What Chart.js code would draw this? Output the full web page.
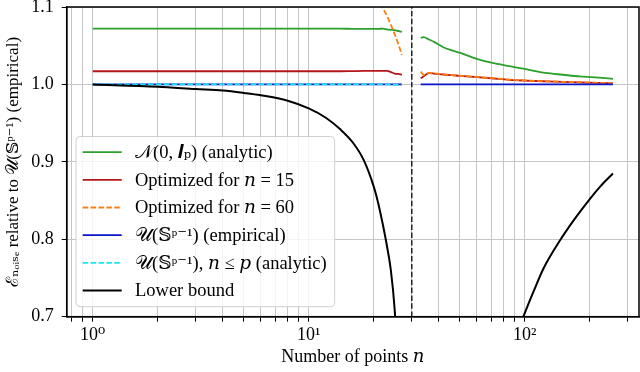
<!DOCTYPE html>
<html>
<head>
<meta charset="utf-8">
<script src="https://cdn.jsdelivr.net/npm/chart.js@4.4.1/dist/chart.umd.min.js"></script>
<style>
  html, body { margin: 0; padding: 0; background: #fff; }
  #wrap { width: 640px; height: 372px; }
</style>
</head>
<body>
<div id="wrap"><canvas id="chart"></canvas></div>
<script>
// Number of points n (left part: n < p, right part: n > p)
const nLeft = [1, 2, 3, 4, 5, 6, 8, 10, 12, 14, 16, 18, 20, 21, 22, 23, 24, 25, 26, 27];
const nRight = [33, 34, 36, 38, 42, 46, 50, 60, 70, 85, 100, 125, 150, 180, 220, 256];
const pDim = 30;

// N(0, I_p) (analytic)
const gaussLeft = [1.072, 1.072, 1.072, 1.072, 1.072, 1.072, 1.072, 1.072, 1.072, 1.072, 1.0718, 1.0718, 1.0718, 1.0718, 1.072, 1.071, 1.0705, 1.070, 1.069, 1.068];
const gaussRight = [1.060, 1.0612, 1.058, 1.055, 1.048, 1.044, 1.041, 1.033, 1.028, 1.0235, 1.020, 1.0148, 1.0125, 1.0103, 1.0087, 1.0073];

// Optimized for n = 15
const opt15Left = [1.017, 1.017, 1.017, 1.017, 1.017, 1.017, 1.017, 1.017, 1.017, 1.017, 1.0172, 1.0174, 1.0175, 1.0175, 1.0175, 1.0175, 1.016, 1.014, 1.0135, 1.0125];
const opt15Right = [1.008, 1.0103, 1.0145, 1.014, 1.0128, 1.012, 1.011, 1.0095, 1.008, 1.006, 1.005, 1.004, 1.0033, 1.0027, 1.002, 1.0017];

// Optimized for n = 60
const opt60Left = [null, null, null, null, null, null, null, null, null, null, null, null, null, 1.115, 1.099, 1.089, 1.077, 1.065, 1.052, 1.038];
const opt60Right = [1.0165, 1.0125, 1.015, 1.0143, 1.013, 1.0122, 1.0112, 1.0097, 1.0082, 1.0062, 1.0052, 1.0041, 1.0034, 1.0028, 1.0021, 1.0018];

// U(S^{p-1}) empirical and analytic (n <= p)
const unifEmpLeft = [1.0, 1.0, 1.0, 1.0, 1.0, 1.0, 1.0, 1.0, 1.0, 1.0, 1.0, 1.0, 1.0, 1.0, 1.0, 1.0, 1.0, 1.0, 1.0, 1.0];
const unifEmpRight = [1.0, 1.0, 1.0, 1.0, 1.0, 1.0, 1.0, 1.0, 1.0, 1.0, 1.0, 1.0, 1.0, 1.0, 1.0, 1.0];
const unifAnaLeft = [1.0, 1.0, 1.0, 1.0, 1.0, 1.0, 1.0, 1.0, 1.0, 1.0, 1.0, 1.0, 1.0, 1.0, 1.0, 1.0, 1.0, 0.9995, 0.9993, 0.999];

// Lower bound
const lowerLeft = [1.0, 0.997, 0.994, 0.992, 0.989, 0.986, 0.979, 0.969, 0.957, 0.942, 0.925, 0.902, 0.868, 0.846, 0.820, 0.792, 0.760, 0.709, 0.62, 0.45];
const lowerRightN = [95, 100, 110, 122, 146, 170, 200, 225, 256];
const lowerRight = [0.688, 0.7045, 0.733, 0.762, 0.799, 0.826, 0.852, 0.869, 0.885];

// Axis ticks
const xMajorTicks = [1, 10, 100];
const xMinorTicks = [0.8, 0.9, 2, 3, 4, 5, 6, 7, 8, 9, 20, 30, 40, 50, 60, 70, 80, 90, 200, 300];
const yTicks = [0.7, 0.8, 0.9, 1.0, 1.1];
const superDigits = {'0': '\u2070', '1': '\u00b9', '2': '\u00b2'};

// join the two parts with a gap at n = p
function joinParts(xa, ya, xb, yb) {
    const pts = xa.map((x, i) => ({x: x, y: ya[i]}));
    pts.push({x: pDim, y: null});
    if (xb) xb.forEach((x, i) => pts.push({x: x, y: yb[i]}));
    return pts;
}

const dashed = [5.5, 2.4];

const datasets = [
    {
        label: '\ud835\udca9(0, \ud835\udc70\u209a) (analytic)',
        data: joinParts(nLeft, gaussLeft, nRight, gaussRight),
        borderColor: '#2ca02c'
    },
    {
        label: 'Optimized for \ud835\udc5b = 15',
        data: joinParts(nLeft, opt15Left, nRight, opt15Right),
        borderColor: '#b5161b'
    },
    {
        label: 'Optimized for \ud835\udc5b = 60',
        data: joinParts(nLeft, opt60Left, nRight, opt60Right),
        borderColor: '#ff7f0e',
        borderDash: dashed
    },
    {
        label: '\ud835\udcb0(\ud835\udd4a\u1d56\u207b\u00b9) (empirical)',
        data: joinParts(nLeft, unifEmpLeft, nRight, unifEmpRight),
        borderColor: '#0a14c8'
    },
    {
        label: '\ud835\udcb0(\ud835\udd4a\u1d56\u207b\u00b9), \ud835\udc5b \u2264 \ud835\udc5d (analytic)',
        data: joinParts(nLeft, unifAnaLeft),
        borderColor: '#19e6f0',
        borderDash: dashed
    },
    {
        label: 'Lower bound',
        data: joinParts(nLeft, lowerLeft, lowerRightN, lowerRight),
        borderColor: '#000000',
        borderWidth: 2
    },
    {
        label: '',
        data: [{x: pDim, y: 0.7}, {x: pDim, y: 1.1}],
        borderColor: '#222222',
        borderWidth: 1.5,
        borderDash: dashed,
        noLegend: true
    }
];

// later datasets drawn on top, like matplotlib
datasets.forEach((d, i) => {
    d.order = datasets.length - i;
    d.pointRadius = 0;
    d.fill = false;
    d.spanGaps = false;
    d.cubicInterpolationMode = 'monotone';
    if (!d.borderWidth) d.borderWidth = 1.8;
});

const serif = '"Liberation Serif", "DejaVu Serif", serif';

// legend box inside the plot, lower left
const insideLegend = {
    id: 'insideLegend',
    afterDatasetsDraw(chart) {
        const ctx = chart.ctx;
        const area = chart.chartArea;
        const items = chart.data.datasets.filter(d => !d.noLegend);
        const rowH = 27.7;
        ctx.save();
        ctx.font = '18.5px ' + serif;
        let maxW = 0;
        items.forEach(d => { maxW = Math.max(maxW, ctx.measureText(d.label).width); });
        const bx = area.left + 9.3;
        const bw = 59 + maxW + 8;
        const bh = rowH * items.length + 4;
        const by = area.bottom - 10 - bh;
        ctx.beginPath();
        ctx.roundRect(bx, by, bw, bh, 4);
        ctx.fillStyle = 'rgba(255,255,255,0.8)';
        ctx.fill();
        ctx.strokeStyle = '#d0d0d0';
        ctx.lineWidth = 1;
        ctx.stroke();
        items.forEach((d, i) => {
            const cy = by + 15.6 + i * rowH;
            ctx.beginPath();
            ctx.setLineDash(d.borderDash || []);
            ctx.strokeStyle = d.borderColor;
            ctx.lineWidth = d.borderWidth;
            ctx.moveTo(bx + 6.7, cy);
            ctx.lineTo(bx + 45.7, cy);
            ctx.stroke();
            ctx.setLineDash([]);
            ctx.fillStyle = '#000';
            ctx.textBaseline = 'middle';
            ctx.fillText(d.label, bx + 59, cy + 1);
        });
        ctx.restore();
    },
    afterDraw(chart) {
        // full frame around the axes
        const ctx = chart.ctx;
        const a = chart.chartArea;
        ctx.save();
        ctx.strokeStyle = '#000';
        ctx.lineWidth = 1.5;
        ctx.strokeRect(a.left, a.top, a.right - a.left, a.bottom - a.top);
        ctx.restore();
    }
};

new Chart(document.getElementById('chart'), {
    type: 'line',
    data: { datasets: datasets },
    plugins: [insideLegend],
    options: {
        responsive: true,
        maintainAspectRatio: false,
        animation: false,
        layout: { padding: { top: 7, right: 1, left: 0, bottom: 0 } },
        plugins: {
            legend: { display: false },
            tooltip: { enabled: false }
        },
        scales: {
            x: {
                type: 'logarithmic',
                min: 0.758,
                max: 338,
                afterBuildTicks: (scale) => {
                    scale.ticks = xMinorTicks.concat(xMajorTicks).sort((a, b) => a - b)
                        .map(v => ({value: v, major: xMajorTicks.includes(v)}));
                },
                afterFit: (scale) => {
                    scale.height = 55.3;
                    scale.paddingLeft = 0;
                    scale.paddingRight = 0;
                },
                ticks: {
                    autoSkip: false,
                    maxRotation: 0,
                    padding: 3,
                    color: '#000',
                    font: { family: serif, size: 18 },
                    callback: (value) => {
                        if (!xMajorTicks.includes(value)) return '';
                        const k = String(Math.round(Math.log10(value)));
                        return '10' + superDigits[k];
                    }
                },
                grid: {
                    color: '#c6c6c6',
                    lineWidth: 1,
                    tickLength: 5,
                    tickColor: '#000'
                },
                border: { color: '#000', width: 1.5 },
                title: {
                    display: true,
                    text: 'Number of points \ud835\udc5b',
                    color: '#000',
                    font: { family: serif, size: 18 },
                    padding: { top: 0, bottom: 4 }
                }
            },
            y: {
                type: 'linear',
                min: 0.7,
                max: 1.1,
                afterBuildTicks: (scale) => {
                    scale.ticks = yTicks.map(v => ({value: v}));
                },
                afterFit: (scale) => {
                    scale.width = 66.7;
                    scale.paddingTop = 0;
                    scale.paddingBottom = 0;
                },
                ticks: {
                    padding: 8,
                    color: '#000',
                    font: { family: serif, size: 18 },
                    callback: (value) => value.toFixed(1)
                },
                grid: {
                    color: '#c6c6c6',
                    lineWidth: 1,
                    tickLength: 5,
                    tickColor: '#000'
                },
                border: { color: '#000', width: 1.5 },
                title: {
                    display: true,
                    text: '\u2130\u2099\u2092\u1d62\u209b\u2091 relative to \ud835\udcb0(\ud835\udd4a\u1d56\u207b\u00b9) (empirical)',
                    color: '#000',
                    font: { family: serif, size: 17 },
                    padding: { top: 3, bottom: 0 }
                }
            }
        }
    }
});
</script>
</body>
</html>
